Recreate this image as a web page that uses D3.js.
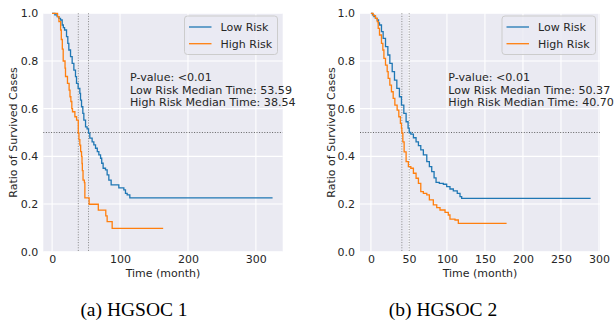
<!DOCTYPE html>
<html><head><meta charset="utf-8">
<script src="https://cdn.jsdelivr.net/npm/d3@7"></script>
<style>body{margin:0;background:#fff}svg{display:block}</style>
</head><body>
<svg id="c" width="615" height="328"></svg>
<script>
// ---------- DATA ----------
const seriesNames = ["Low Risk", "High Risk"];
const seriesColors = ["#1f77b4", "#ff7f0e"];

// HGSOC 1
const low1Time = [0,4,7.4,10,12.4,14.8,16.5,18.3,21.2,23.1,24.6,27.1,29.5,32,34.4,35.9,38.3,40.8,41.8,43.3,45.2,46.7,49.2,51.5,53.6,55.5,58.9,61.4,63.9,66.5,68.8,71.3,73,75.1,78.6,81,83.5,86.9,98.2,105.6,108,110.5,114.4,324.6];
const low1Surv = [1,0.993,0.986,0.979,0.972,0.951,0.94,0.93,0.902,0.874,0.846,0.818,0.79,0.762,0.734,0.706,0.685,0.664,0.636,0.608,0.58,0.552,0.524,0.515,0.497,0.476,0.461,0.448,0.434,0.42,0.406,0.392,0.371,0.35,0.343,0.322,0.30,0.28,0.268,0.259,0.245,0.238,0.226,0.226];
const high1Time = [0,8,10,12.5,13.5,15,16.3,19,19.7,22.6,25,26.3,27.6,29,30,33.5,36,38.5,39.5,40.8,42,43.3,44,44.5,45.5,47.5,48.2,54.5,68,79,81,88.4,163.5];
const high1Surv = [1,0.986,0.965,0.93,0.89,0.85,0.80,0.77,0.735,0.706,0.678,0.65,0.63,0.60,0.587,0.566,0.552,0.496,0.47,0.447,0.42,0.40,0.37,0.34,0.30,0.29,0.226,0.199,0.174,0.15,0.126,0.098,0.098];

// HGSOC 2
const low2Time = [0,2,3.9,6,8.3,10,11.3,13.9,16.1,19.2,22.3,24.9,28,31,34.1,37.5,40.2,43.3,46.3,48.9,50.4,52.5,55.9,59.4,62.5,65.6,69,73.5,76.9,80,83.1,85.7,90,95.3,99.7,104,108.4,113.6,117.2,119.4,289];
const low2Surv = [1,0.993,0.986,0.979,0.972,0.96,0.951,0.923,0.895,0.86,0.825,0.79,0.755,0.72,0.685,0.65,0.615,0.58,0.545,0.518,0.50,0.493,0.478,0.461,0.445,0.427,0.406,0.378,0.357,0.336,0.31,0.291,0.287,0.283,0.273,0.263,0.255,0.245,0.231,0.224,0.224];
const high2Time = [0,3,6,8.3,9.6,11.3,13.9,15.7,17.1,19.2,21.4,22.7,24.9,27,29.3,31.5,34.5,36.7,38.8,40.2,40.7,42,43.7,46.3,49.3,52.5,55.9,59.4,62.5,65.6,69,73.5,76.9,82.1,86.6,90.9,97.5,101.8,104,110.6,115,178.5];
const high2Surv = [1,0.99,0.979,0.965,0.937,0.909,0.874,0.846,0.811,0.783,0.755,0.727,0.699,0.671,0.643,0.615,0.594,0.566,0.538,0.518,0.497,0.461,0.419,0.378,0.357,0.35,0.329,0.308,0.287,0.252,0.245,0.238,0.217,0.196,0.185,0.175,0.165,0.154,0.137,0.133,0.119,0.119];

const medians1 = [53.59, 38.54];
const medians2 = [50.37, 40.70];
const pValueText = "P-value: <0.01";
const xTicks1 = [0,100,200,300];
const xTicks2 = [0,50,100,150,200,250,300];
const yTicks = [0,0.2,0.4,0.6,0.8,1.0];
const captions = ["(a) HGSOC 1", "(b) HGSOC 2"];

// ---------- DRAW ----------
const svg = d3.select("#c");
const FONT = "'DejaVu Sans', sans-serif";

function panel(cfg) {
  const g = svg.append("g");
  const x = d3.scaleLinear().domain(cfg.xDomain).range([cfg.left, cfg.right]);
  const y = d3.scaleLinear().domain([0, 1]).range([cfg.bottom, cfg.top]);

  g.append("rect").attr("x", cfg.left).attr("y", cfg.top)
    .attr("width", cfg.right - cfg.left).attr("height", cfg.bottom - cfg.top)
    .attr("fill", "#eaeaf2");

  g.selectAll(".gx").data(cfg.xTicks).enter().append("line")
    .attr("x1", d => x(d)).attr("x2", d => x(d))
    .attr("y1", cfg.top).attr("y2", cfg.bottom)
    .attr("stroke", "#fff").attr("stroke-width", 1.1);
  g.selectAll(".gy").data(yTicks).enter().append("line")
    .attr("x1", cfg.left).attr("x2", cfg.right)
    .attr("y1", d => y(d)).attr("y2", d => y(d))
    .attr("stroke", "#fff").attr("stroke-width", 1.1);

  const xa = g.append("g").attr("transform", `translate(0,${cfg.bottom})`)
    .call(d3.axisBottom(x).tickValues(cfg.xTicks).tickFormat(d3.format("d")).tickSize(0).tickPadding(3.5));
  const ya = g.append("g").attr("transform", `translate(${cfg.left},0)`)
    .call(d3.axisLeft(y).tickValues(yTicks).tickFormat(d3.format(".1f")).tickSize(0).tickPadding(5));
  [xa, ya].forEach(a => {
    a.select(".domain").remove();
    a.selectAll("text").attr("font-family", FONT).attr("font-size", 11).attr("fill", "#262626");
  });

  g.append("line").attr("x1", cfg.left).attr("x2", cfg.right)
    .attr("y1", y(0.5)).attr("y2", y(0.5))
    .attr("stroke", "#555").attr("stroke-width", 0.9).attr("stroke-dasharray", "1,1.6");
  cfg.medians.forEach(m => {
    g.append("line").attr("x1", x(m)).attr("x2", x(m))
      .attr("y1", cfg.top).attr("y2", cfg.bottom)
      .attr("stroke", "#888").attr("stroke-width", 1).attr("stroke-dasharray", "1,1.6");
  });

  const line = d3.line().x(d => x(d[0])).y(d => y(d[1])).curve(d3.curveStepAfter);
  cfg.series.forEach((s, i) => {
    const pts = s.t.map((t, k) => [t, s.s[k]]);
    g.append("path").datum(pts).attr("d", line)
      .attr("fill", "none").attr("stroke", seriesColors[i]).attr("stroke-width", 1.3);
  });

  const lines = [pValueText,
    `Low Risk Median Time: ${cfg.medians[0].toFixed(2)}`,
    `High Risk Median Time: ${cfg.medians[1].toFixed(2)}`];
  lines.forEach((t, i) => {
    g.append("text").attr("x", cfg.annX).attr("y", 81 + i * 12.6)
      .attr("font-family", FONT).attr("font-size", 11.1).attr("fill", "#262626").text(t);
  });

  const L = cfg.legend;
  g.append("rect").attr("x", L.x).attr("y", 16).attr("width", L.w).attr("height", 38.5)
    .attr("rx", 3).attr("fill", "#eaeaf2").attr("fill-opacity", 0.8)
    .attr("stroke", "#cccccc").attr("stroke-width", 1);
  seriesNames.forEach((n, i) => {
    const yy = 27 + i * 16.7;
    g.append("line").attr("x1", L.x + 4.5).attr("x2", L.x + 27)
      .attr("y1", yy).attr("y2", yy).attr("stroke", seriesColors[i]).attr("stroke-width", 1.3);
    g.append("text").attr("x", L.x + 36).attr("y", yy + 4)
      .attr("font-family", FONT).attr("font-size", 11).attr("fill", "#262626").text(n);
  });

  g.append("text").attr("x", (cfg.left + cfg.right) / 2).attr("y", 276.5)
    .attr("text-anchor", "middle").attr("font-family", FONT).attr("font-size", 11)
    .attr("fill", "#262626").text("Time (month)");
  g.append("text").attr("transform", `translate(${cfg.yLabelX},${(cfg.top + cfg.bottom) / 2}) rotate(-90)`)
    .attr("text-anchor", "middle").attr("dy", "0.35em").attr("font-family", FONT).attr("font-size", 11)
    .attr("fill", "#262626").text("Ratio of Survived Cases");

  svg.append("text").attr("x", cfg.capX).attr("y", 316).attr("text-anchor", "middle")
    .attr("font-family", "'Liberation Serif', 'Times New Roman', serif").attr("font-size", 19.5)
    .attr("fill", "#000").text(cfg.caption);
}

panel({
  left: 43.3, right: 282.7, top: 13.3, bottom: 251.7,
  xDomain: [-13, 339.5], xTicks: xTicks1, medians: medians1,
  series: [{t: low1Time, s: low1Surv}, {t: high1Time, s: high1Surv}],
  annX: 130, legend: {x: 184.5, w: 93}, yLabelX: 12.7, capX: 134, caption: captions[0]
});
panel({
  left: 360, right: 600, top: 13.3, bottom: 251.7,
  xDomain: [-14.35, 301.35], xTicks: xTicks2, medians: medians2,
  series: [{t: low2Time, s: low2Surv}, {t: high2Time, s: high2Surv}],
  annX: 448.3, legend: {x: 502, w: 93.5}, yLabelX: 331, capX: 443, caption: captions[1]
});
</script>
</body></html>
